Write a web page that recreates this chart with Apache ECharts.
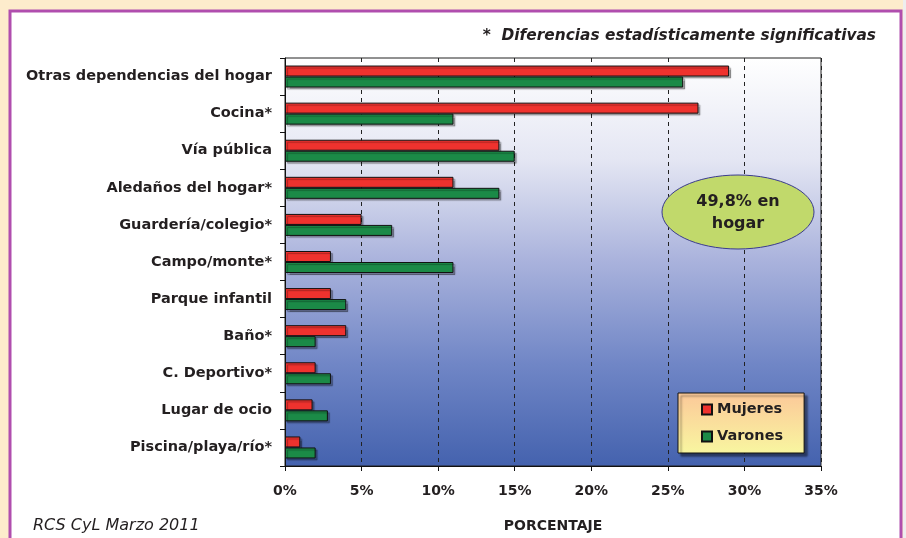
<!DOCTYPE html>
<html>
<head>
<meta charset="utf-8">
<script src="https://cdn.jsdelivr.net/npm/echarts@6/dist/echarts.min.js"></script>
<style>
  html, body { margin: 0; padding: 0; background: #fdeccc; }
  #chart { width: 906px; height: 538px; }
</style>
</head>
<body>
<div id="chart"></div>
<script>
// lugares de la lesión (%), por sexo
var categories = ['Otras dependencias del hogar', 'Cocina*', 'Vía pública', 'Aledaños del hogar*',
  'Guardería/colegio*', 'Campo/monte*', 'Parque infantil', 'Baño*', 'C. Deportivo*',
  'Lugar de ocio', 'Piscina/playa/río*'];
var mujeres = [29, 27, 14, 11, 5, 3, 3, 4, 2, 1.8, 1];
var varones = [26, 11, 15, 14, 7, 11, 4, 2, 3, 2.8, 2];
var xTicks = [0, 5, 10, 15, 20, 25, 30, 35];

var chart = echarts.init(document.getElementById('chart'));
var txt = '#231f20';
var font = 'DejaVu Sans, Liberation Sans, Arial, sans-serif';

var barStyle = function(color) {
  return {
    color: color,
    borderColor: '#111',
    borderWidth: 1,
    shadowColor: 'rgba(0,0,0,0.3)',
    shadowOffsetX: 2,
    shadowOffsetY: 2,
    shadowBlur: 1
  };
};

chart.setOption({
  backgroundColor: '#fdeccc',
  animation: false,
  textStyle: { fontFamily: font },
  title: [
    {
      text: '*  Diferencias estadísticamente significativas',
      right: 25, top: 23,
      textStyle: { fontSize: 15.4, fontWeight: 'bold', fontStyle: 'italic', color: txt, fontFamily: font }
    },
    {
      text: 'RCS CyL Marzo 2011',
      left: 28, top: 513,
      textStyle: { fontSize: 16, fontWeight: 'normal', fontStyle: 'italic', color: txt, fontFamily: font }
    }
  ],
  legend: {
    orient: 'vertical',
    left: 678, top: 393,
    data: ['Mujeres', 'Varones'],
    icon: 'rect',
    itemWidth: 10, itemHeight: 10,
    itemGap: 12,
    padding: [9, 21, 9, 23],
    borderColor: '#111', borderWidth: 1,
    backgroundColor: new echarts.graphic.LinearGradient(0, 0, 0, 1, [
      { offset: 0, color: '#fcc899' },
      { offset: 1, color: '#f8f6a0' }
    ]),
    shadowColor: 'rgba(0,0,0,0.45)', shadowOffsetX: 3, shadowOffsetY: 3, shadowBlur: 2,
    textStyle: { fontSize: 14.5, fontWeight: 'bold', color: txt, fontFamily: font }
  },
  grid: {
    left: 285, right: 85, top: 58, bottom: 71,
    show: true,
    borderColor: '#222', borderWidth: 1,
    backgroundColor: new echarts.graphic.LinearGradient(0, 0, 0, 1, [
      { offset: 0, color: '#ffffff' },
      { offset: 0.25, color: '#e4e6f3' },
      { offset: 0.5, color: '#a9b2dc' },
      { offset: 0.75, color: '#7086c6' },
      { offset: 1, color: '#4462ae' }
    ])
  },
  xAxis: {
    type: 'value',
    min: 0, max: 35, interval: 5,
    name: 'PORCENTAJE',
    nameLocation: 'middle',
    nameGap: 53,
    nameTextStyle: { fontSize: 14, fontWeight: 'bold', color: txt, fontFamily: font },
    axisLine: { show: true, lineStyle: { color: '#111', width: 1 } },
    axisTick: { show: true, length: 5, lineStyle: { color: '#111' } },
    axisLabel: {
      margin: 18, fontSize: 14, fontWeight: 'bold', color: txt, fontFamily: font,
      formatter: function(v) { return xTicks.indexOf(v) >= 0 ? v + '%' : ''; }
    },
    splitLine: { show: true, lineStyle: { color: '#222', type: [4, 4], width: 1 } }
  },
  yAxis: {
    type: 'category',
    data: categories,
    inverse: true,
    axisLine: { show: true, lineStyle: { color: '#111', width: 1 } },
    axisTick: { show: true, length: 5, lineStyle: { color: '#111' } },
    axisLabel: { margin: 13, fontSize: 14.5, fontWeight: 'bold', color: txt, fontFamily: font, interval: 0 },
    splitLine: { show: false }
  },
  series: [
    {
      name: 'Mujeres', type: 'bar', data: mujeres,
      barWidth: 11, barGap: '0%',
      itemStyle: barStyle('#ef322e')
    },
    {
      name: 'Varones', type: 'bar', data: varones,
      barWidth: 11, barGap: '0%',
      itemStyle: barStyle('#1b8a47')
    }
  ],
  graphic: [
    {
      type: 'rect', z: -10, silent: true,
      shape: { x: 10, y: 11, width: 891, height: 540 },
      style: { fill: '#ffffff', stroke: '#b04eae', lineWidth: 3 }
    },
    {
      type: 'rect', z: -11, silent: true,
      shape: { x: 903, y: 0, width: 3, height: 538 },
      style: { fill: '#eeeeee' }
    },
    {
      type: 'ellipse', z: 100, silent: true,
      shape: { cx: 738, cy: 212, rx: 76, ry: 37 },
      style: { fill: '#c1d96b', stroke: '#3b3b8e', lineWidth: 1 }
    },
    {
      type: 'text', z: 101, silent: true,
      x: 738, y: 213,
      style: {
        text: '49,8% en\nhogar',
        align: 'center', verticalAlign: 'middle',
        font: 'bold 16px ' + font,
        lineHeight: 22,
        fill: txt
      }
    }
  ]
});
</script>
</body>
</html>
